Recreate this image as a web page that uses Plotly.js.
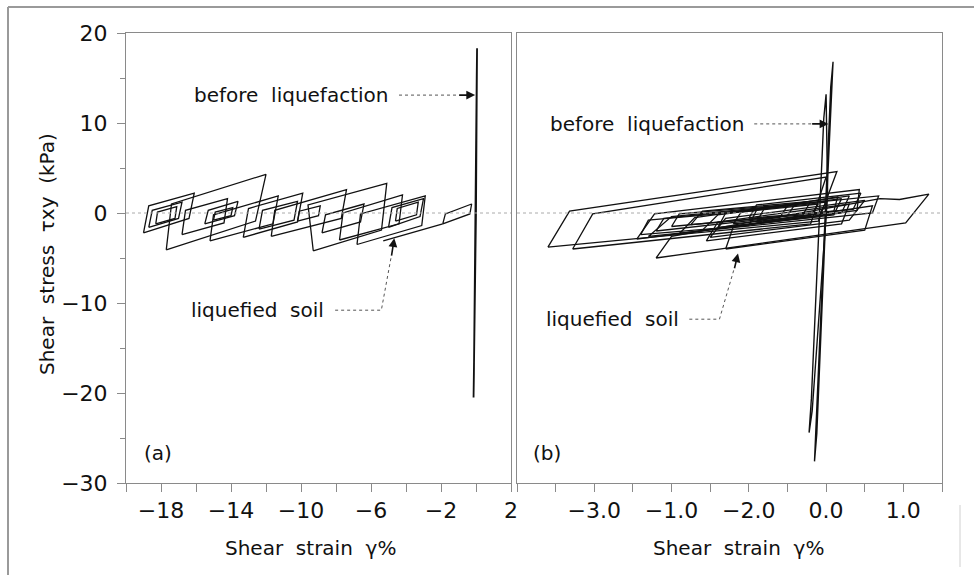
<!DOCTYPE html>
<html><head><meta charset="utf-8">
<script src="https://cdn.plot.ly/plotly-3.0.1.min.js"></script>
<style>html,body{margin:0;padding:0;background:#fff}#chart{width:974px;height:575px}</style>
</head><body><div id="chart"></div>
<script>
// ---- Panel (a): shear strain (%) / shear stress (kPa) ----
const strainA_pre = [0.0, 0.06, 0.04, -0.12, -0.14, -0.10, 0.0];
const stressA_pre = [0.0, 18.3, 15.0, -18.0, -20.5, -16.0, 0.0];

const strainA_loops = [
  -19.0,-16.4,-16.1,-18.7,-19.0, null,
  -18.7,-17.0,-16.8,-18.5,-18.7, null,
  -18.3,-17.2,-17.1,-18.2,-18.3, null,
  -17.7,-12.6,-12.0,-17.4,-17.7, null,
  -16.8,-14.4,-14.2,-16.6,-16.8, null,
  -15.2,-11.6,-11.3,-15.0,-15.2, null,
  -15.5,-13.8,-13.6,-15.3,-15.5, null,
  -15.0,-14.0,-13.9,-14.9,-15.0, null,
  -13.3,-10.2,-9.9,-13.0,-13.3, null,
  -12.4,-10.4,-10.2,-12.2,-12.4, null,
  -11.7,-7.7,-7.4,-11.5,-11.7, null,
  -10.2,-9.0,-8.9,-10.1,-10.2, null,
  -9.3,-5.4,-5.1,-9.6,-9.3, null,
  -8.8,-6.6,-6.4,-8.6,-8.8, null,
  -7.8,-4.4,-4.2,-7.6,-7.8, null,
  -6.8,-3.1,-2.9,-6.6,-6.8, null,
  -5.0,-3.2,-3.0,-4.8,-5.0, null,
  -4.6,-3.4,-3.3,-4.5,-4.6, null,
  -5.3,-1.9, null,
  -1.9,-0.35,-0.25,-1.75,-1.9
];
const stressA_loops = [
  -2.2,-0.6,2.2,0.8,-2.2, null,
  -1.6,-0.6,1.2,0.3,-1.6, null,
  -1.2,-0.6,0.7,0.1,-1.2, null,
  -4.1,-0.9,4.3,1.0,-4.1, null,
  -2.4,-1.1,1.6,0.3,-2.4, null,
  -3.1,-1.2,1.9,-0.2,-3.1, null,
  -1.2,-0.3,1.3,0.3,-1.2, null,
  -0.8,-0.3,0.6,0.1,-0.8, null,
  -2.7,-1.0,2.2,0.5,-2.7, null,
  -1.8,-0.8,1.3,0.3,-1.8, null,
  -2.6,-0.6,2.6,0.3,-2.6, null,
  -0.9,-0.3,0.8,0.2,-0.9, null,
  -4.2,-1.9,3.3,0.9,-4.2, null,
  -2.2,-1.0,1.0,-0.2,-2.2, null,
  -3.0,-1.2,2.0,0.0,-3.0, null,
  -3.5,-1.4,1.9,-0.1,-3.5, null,
  -1.6,-0.4,1.6,0.6,-1.6, null,
  -0.9,-0.2,1.2,0.5,-0.9, null,
  -3.1,-1.2, null,
  -1.2,-0.1,1.0,-0.1,-1.2
];

// ---- Panel (b) ----
const strainB_pre = [0.0, 0.09, 0.06, -0.13, -0.15, -0.12, 0.0, null, 0.02, 0.0, -0.03, -0.19, -0.22, -0.18, 0.02];
const stressB_pre = [0.0, 16.8, 14.0, -24.0, -27.6, -24.5, 0.5, null, 2.0, 13.2, 10.5, -20.6, -24.4, -22.0, 2.0];

const strainB_loops = [
  -3.6,-0.1,0.14,-3.32,-3.6, null,
  -3.28,-0.2,0.0,-3.02,-3.28, null,
  -2.2,1.03,1.33,0.95,0.7,-2.0,-2.2, null,
  -2.45,0.4,0.43,-2.22,-2.45, null,
  -2.3,0.6,0.68,-2.0,-2.3, null,
  -1.9,0.2,0.3,-1.7,-1.9, null,
  -1.6,0.1,0.2,-1.4,-1.6, null,
  -1.4,-0.1,0.0,-1.3,-1.4, null,
  -1.2,-0.2,-0.1,-1.1,-1.2, null,
  -2.0,-0.5,-0.4,-1.9,-2.0, null,
  -1.5,0.3,0.5,-1.3,-1.5, null,
  -1.3,0.5,0.6,-1.2,-1.3, null,
  -1.55,0.2,0.3,-1.4,-1.55, null,
  -0.9,0.1,0.15,-0.8,-0.9, null,
  -2.2,-0.6,-0.5,-2.1,-2.2, null,
  -1.75,-0.3,-0.2,-1.6,-1.75, null,
  -1.0,0.35,0.45,-0.9,-1.0, null,
  -2.4,-1.0,-0.9,-2.3,-2.4
];
const stressB_loops = [
  -3.8,-0.9,4.6,0.2,-3.8, null,
  -4.0,-1.2,4.0,-0.1,-4.0, null,
  -5.0,-1.1,2.1,1.5,1.6,-2.6,-5.0, null,
  -2.9,0.3,2.6,-0.1,-2.9, null,
  -2.6,0.0,1.9,-0.4,-2.6, null,
  -2.3,0.0,1.9,-0.5,-2.3, null,
  -1.9,-0.2,1.6,-0.2,-1.9, null,
  -1.6,-0.4,1.2,0.0,-1.6, null,
  -1.2,-0.3,1.0,0.1,-1.2, null,
  -1.5,-0.3,1.0,-0.1,-1.5, null,
  -2.7,-0.8,1.4,-0.6,-2.7, null,
  -4.0,-1.9,0.8,-1.5,-4.0, null,
  -3.1,-1.2,1.0,-1.0,-3.1, null,
  -1.0,0.2,1.8,0.5,-1.0, null,
  -2.0,-0.5,0.8,-0.6,-2.0, null,
  -1.3,-0.2,1.3,0.2,-1.3, null,
  -0.6,0.4,2.2,0.9,-0.6, null,
  -2.4,-1.4,0.3,-0.8,-2.4
];

// ---- tick labels ----
const tickValsA = [-20,-18,-16,-14,-12,-10,-8,-6,-4,-2,0,2];
const tickTextA = ['', '\u221218', '', '\u221214', '', '\u221210', '', '\u22126', '', '\u22122', '', '2'];
const tickValsB = [-4,-3.5,-3,-2.5,-2,-1.5,-1,-0.5,0,0.5,1,1.5];
const tickTextB = ['', '', '\u22123.0', '', '\u22121.0', '', '\u22122.0', '', '0.0', '', '1.0', ''];
const tickValsY = [-30,-20,-10,0,10,20];
const tickTextY = ['\u221230', '\u221220', '\u221210', '0', '10', '20'];

const FONT = 'DejaVu Sans, Arial, sans-serif';
const INK = '#111';
const AX = '#8a8a8a';
const W = 974, H = 575;
const px = v => v / W, py = v => 1 - v / H;

const lineStyle = {color: INK, width: 1.3};
const traces = [
  {x: strainA_pre, y: stressA_pre, xaxis: 'x', yaxis: 'y', mode: 'lines', line: {color: INK, width: 1.8}, hoverinfo: 'skip'},
  {x: strainA_loops, y: stressA_loops, xaxis: 'x', yaxis: 'y', mode: 'lines', line: lineStyle, hoverinfo: 'skip'},
  {x: strainB_pre, y: stressB_pre, xaxis: 'x2', yaxis: 'y2', mode: 'lines', line: {color: INK, width: 1.4}, hoverinfo: 'skip'},
  {x: strainB_loops, y: stressB_loops, xaxis: 'x2', yaxis: 'y2', mode: 'lines', line: lineStyle, hoverinfo: 'skip'}
];

const tickFont = {family: FONT, size: 22, color: INK};
const xCommon = {
  showgrid: false, zeroline: false, showline: true, linecolor: AX, linewidth: 1, mirror: true,
  ticks: 'outside', ticklen: 8, tickcolor: AX, tickwidth: 1, tickfont: tickFont, tickmode: 'array', fixedrange: true
};

const layout = {
  width: W, height: H, margin: {l: 0, r: 0, t: 0, b: 0},
  paper_bgcolor: '#fff', plot_bgcolor: '#fff', showlegend: false,
  xaxis: Object.assign({}, xCommon, {domain: [px(126), px(511)], range: [-20, 2], tickvals: tickValsA, ticktext: tickTextA, anchor: 'y'}),
  xaxis2: Object.assign({}, xCommon, {domain: [px(517), px(942)], range: [-4, 1.5], tickvals: tickValsB, ticktext: tickTextB, anchor: 'y2'}),
  yaxis: {
    domain: [py(483), py(33)], range: [-30, 20], anchor: 'x',
    showgrid: false, zeroline: false, showline: true, linecolor: AX, linewidth: 1, mirror: true,
    ticks: 'outside', ticklen: 8, tickcolor: AX, tickwidth: 1, tickfont: tickFont, ticklabelstandoff: 5,
    tickmode: 'array', tickvals: tickValsY, ticktext: tickTextY,
    minor: {tickvals: [-25,-15,-5,5,15], ticks: 'outside', ticklen: 5, tickcolor: AX},
    fixedrange: true
  },
  yaxis2: {
    domain: [py(483), py(33)], range: [-30, 20], anchor: 'x2',
    showgrid: false, zeroline: false, showline: true, linecolor: AX, linewidth: 1, mirror: true,
    showticklabels: false, ticks: '', fixedrange: true
  },
  shapes: [
    // frame of the scan
    {type: 'line', xref: 'paper', yref: 'paper', x0: px(8), x1: 1, y0: py(7), y1: py(7), line: {color: '#9a9a9a', width: 2}},
    {type: 'line', xref: 'paper', yref: 'paper', x0: px(8), x1: px(8), y0: py(7), y1: 0, line: {color: '#9a9a9a', width: 2}},
    {type: 'line', xref: 'paper', yref: 'paper', x0: px(960), x1: px(960), y0: py(505), y1: py(567), line: {color: '#d0d0d0', width: 1}},
    // zero lines
    {type: 'line', xref: 'x domain', yref: 'y', x0: 0, x1: 1, y0: 0, y1: 0, line: {color: '#aaa', width: 1, dash: 'dot'}},
    {type: 'line', xref: 'x2 domain', yref: 'y2', x0: 0, x1: 1, y0: 0, y1: 0, line: {color: '#aaa', width: 1, dash: 'dot'}},
    // leader lines
    {type: 'line', xref: 'x', yref: 'y', x0: -4.40, x1: -1.0, y0: 13.1, y1: 13.1, line: {color: '#555', width: 1, dash: 'dot'}},
    {type: 'path', xref: 'x', yref: 'y', path: 'M -8.05 -10.8 L -5.41 -10.8 L -4.84 -4.8', line: {color: '#555', width: 1, dash: 'dot'}},
    {type: 'line', xref: 'x2', yref: 'y2', x0: -0.93, x1: -0.18, y0: 9.9, y1: 9.9, line: {color: '#555', width: 1, dash: 'dot'}},
    {type: 'path', xref: 'x2', yref: 'y2', path: 'M -1.77 -11.8 L -1.38 -11.8 L -1.19 -6.2', line: {color: '#555', width: 1, dash: 'dot'}}
  ],
  annotations: [
    {xref: 'x', yref: 'y', x: -10.6, y: 13.1, text: 'before  liquefaction', showarrow: false, font: {family: FONT, size: 20, color: INK}},
    {xref: 'x', yref: 'y', x: -0.05, y: 13.1, ax: -1.05, ay: 13.1, axref: 'x', ayref: 'y', text: '', showarrow: true, arrowhead: 2, arrowsize: 1.1, arrowwidth: 1.6, arrowcolor: INK},
    {xref: 'x', yref: 'y', x: -12.5, y: -10.8, text: 'liquefied  soil', showarrow: false, font: {family: FONT, size: 20, color: INK}},
    {xref: 'x', yref: 'y', x: -4.67, y: -2.8, ax: -4.84, ay: -4.9, axref: 'x', ayref: 'y', text: '', showarrow: true, arrowhead: 2, arrowsize: 1.1, arrowwidth: 1.6, arrowcolor: INK},
    {xref: 'x', yref: 'y', x: -18.2, y: -26.7, text: '(a)', showarrow: false, font: {family: FONT, size: 20, color: INK}},

    {xref: 'x2', yref: 'y2', x: -2.32, y: 9.9, text: 'before  liquefaction', showarrow: false, font: {family: FONT, size: 20, color: INK}},
    {xref: 'x2', yref: 'y2', x: 0.03, y: 9.9, ax: -0.2, ay: 9.9, axref: 'x2', ayref: 'y2', text: '', showarrow: true, arrowhead: 2, arrowsize: 1.1, arrowwidth: 1.6, arrowcolor: INK},
    {xref: 'x2', yref: 'y2', x: -2.77, y: -11.8, text: 'liquefied  soil', showarrow: false, font: {family: FONT, size: 20, color: INK}},
    {xref: 'x2', yref: 'y2', x: -1.14, y: -4.5, ax: -1.19, ay: -6.3, axref: 'x2', ayref: 'y2', text: '', showarrow: true, arrowhead: 2, arrowsize: 1.1, arrowwidth: 1.6, arrowcolor: INK},
    {xref: 'x2', yref: 'y2', x: -3.61, y: -26.7, text: '(b)', showarrow: false, font: {family: FONT, size: 20, color: INK}},

    // axis titles
    {xref: 'paper', yref: 'paper', x: px(310), y: py(548), xanchor: 'center', yanchor: 'middle', text: 'Shear  strain  \u03b3%', showarrow: false, font: {family: FONT, size: 20, color: INK}},
    {xref: 'paper', yref: 'paper', x: px(738), y: py(548), xanchor: 'center', yanchor: 'middle', text: 'Shear  strain  \u03b3%', showarrow: false, font: {family: FONT, size: 20, color: INK}},
    {xref: 'paper', yref: 'paper', x: px(47), y: py(254), xanchor: 'center', yanchor: 'middle', text: 'Shear  stress  \u03c4xy  (kPa)', textangle: -90, showarrow: false, font: {family: FONT, size: 20, color: INK}}
  ]
};

Plotly.newPlot('chart', traces, layout, {displayModeBar: false, staticPlot: true});
</script></body></html>
